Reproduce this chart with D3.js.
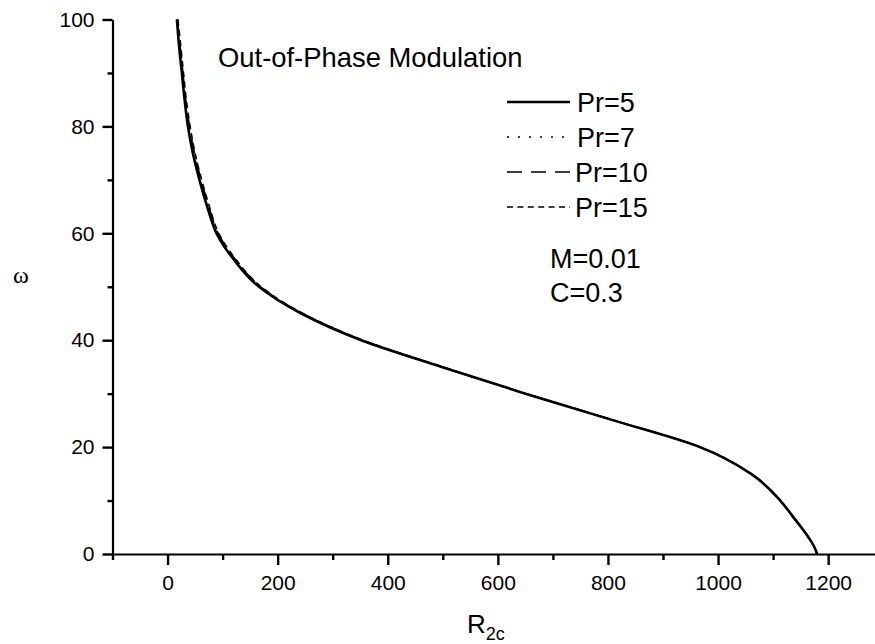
<!DOCTYPE html>
<html>
<head>
<meta charset="utf-8">
<script src="https://cdn.jsdelivr.net/npm/d3@7"></script>
<style>
  html, body { margin: 0; padding: 0; background: #fff; }
  svg { display: block; }
  text { font-family: Arial, "Liberation Sans", sans-serif; fill: #000; }
</style>
</head>
<body>
<svg id="chart" width="875" height="644"></svg>
<script>
// ---- data ----
const omega = [100, 95, 90, 85, 80, 75, 70, 65, 60, 55, 50, 45, 40, 35, 30, 25, 20, 15, 10, 7, 5, 3, 1.5, 0];
const rPr5  = [17, 21, 26, 31, 37, 46, 58, 72, 89, 121, 166, 243, 352, 498, 650, 810, 967, 1060, 1113, 1136, 1151, 1165, 1174, 1180];
const rPr7  = [17, 21, 26, 31, 38, 47, 59, 73, 90, 122, 167, 244, 353, 498, 650, 810, 967, 1060, 1113, 1136, 1151, 1165, 1174, 1180];
const rPr10 = [18, 23, 28, 33, 40, 49, 61, 75, 92, 124, 169, 245, 354, 499, 651, 811, 967, 1060, 1113, 1136, 1151, 1165, 1174, 1180];
const rPr15 = [19, 24, 29, 34, 41, 50, 62, 76, 93, 125, 170, 246, 355, 500, 651, 811, 968, 1060, 1113, 1136, 1151, 1165, 1174, 1180];
const seriesNames = ["Pr=5", "Pr=7", "Pr=10", "Pr=15"];
const xTicks = [0, 200, 400, 600, 800, 1000, 1200];
const xMinor = [-100, 100, 300, 500, 700, 900, 1100];
const yTicks = [0, 20, 40, 60, 80, 100];
const yMinor = [10, 30, 50, 70, 90];
const titleText = "Out-of-Phase Modulation";
const paramTexts = ["M=0.01", "C=0.3"];

// ---- styles ----
const styles = [
  { dash: null,     width: 2.6 },
  { dash: "2,9",    width: 1.6 },
  { dash: "15,9",   width: 1.6 },
  { dash: "6,4.4",  width: 1.6 }
];
const seriesR = [rPr5, rPr7, rPr10, rPr15];

const svg = d3.select("#chart");
const x = d3.scaleLinear().domain([-100, 1300]).range([112.5, 883.2]);
const y = d3.scaleLinear().domain([0, 100]).range([554, 19.5]);
const fmt = d3.format("d");
const font = "Arial, 'Liberation Sans', sans-serif";

// axes
const gx = svg.append("g").attr("transform", `translate(0,${y(0)})`)
  .call(d3.axisBottom(x).tickValues(xTicks).tickFormat(fmt).tickSize(11).tickSizeOuter(0).tickPadding(10));
gx.selectAll("text").style("font-size", "21px").style("font-family", font);
svg.append("g").attr("transform", `translate(0,${y(0)})`)
  .call(d3.axisBottom(x).tickValues(xMinor).tickSize(6).tickFormat(""))
  .call(g => g.select(".domain").remove());

const gy = svg.append("g").attr("transform", `translate(${x(-100)},0)`)
  .call(d3.axisLeft(y).tickValues(yTicks).tickFormat(fmt).tickSize(10).tickSizeOuter(0).tickPadding(8));
gy.selectAll("text").style("font-size", "21px").style("font-family", font);
svg.append("g").attr("transform", `translate(${x(-100)},0)`)
  .call(d3.axisLeft(y).tickValues(yMinor).tickSize(5).tickFormat(""))
  .call(g => g.select(".domain").remove());

svg.selectAll(".domain").attr("stroke-width", 2.2).attr("stroke", "#000");
svg.selectAll(".tick line").attr("stroke-width", 2.4).attr("stroke", "#000");

// curves
const line = d3.line()
  .x(d => x(d[0]))
  .y(d => y(d[1]))
  .curve(d3.curveMonotoneY);

seriesR.forEach((rs, i) => {
  const pts = rs.map((r, k) => [r, omega[k]]);
  svg.append("path")
    .datum(pts)
    .attr("d", line)
    .attr("fill", "none")
    .attr("stroke", "#000")
    .attr("stroke-width", styles[i].width)
    .attr("stroke-dasharray", styles[i].dash);
});

// title
svg.append("text").attr("x", 218).attr("y", 67).style("font-size", "27.4px").text(titleText);

// legend
const legBase = [112, 147, 182, 217];
const legTextX = [577, 577, 575, 575];
seriesNames.forEach((name, i) => {
  svg.append("line")
    .attr("x1", 507).attr("x2", 570)
    .attr("y1", legBase[i] - 10).attr("y2", legBase[i] - 10)
    .attr("stroke", "#000")
    .attr("stroke-width", styles[i].width)
    .attr("stroke-dasharray", styles[i].dash);
  svg.append("text").attr("x", legTextX[i]).attr("y", legBase[i])
    .style("font-size", "27px").text(name);
});
const paramBase = [268, 302];
paramTexts.forEach((t, i) => {
  svg.append("text").attr("x", 550).attr("y", paramBase[i]).style("font-size", "27px").text(t);
});

// axis labels
const xl = svg.append("text").attr("x", 467).attr("y", 633).style("font-size", "26px");
xl.append("tspan").text("R");
xl.append("tspan").attr("dy", 7).style("font-size", "18px").text("2c");

svg.append("text").attr("x", 21).attr("y", 283)
  .attr("text-anchor", "middle")
  .style("font-family", "'Liberation Serif', 'Times New Roman', serif")
  .style("font-size", "24px")
  .text("ω");
</script>
</body>
</html>
